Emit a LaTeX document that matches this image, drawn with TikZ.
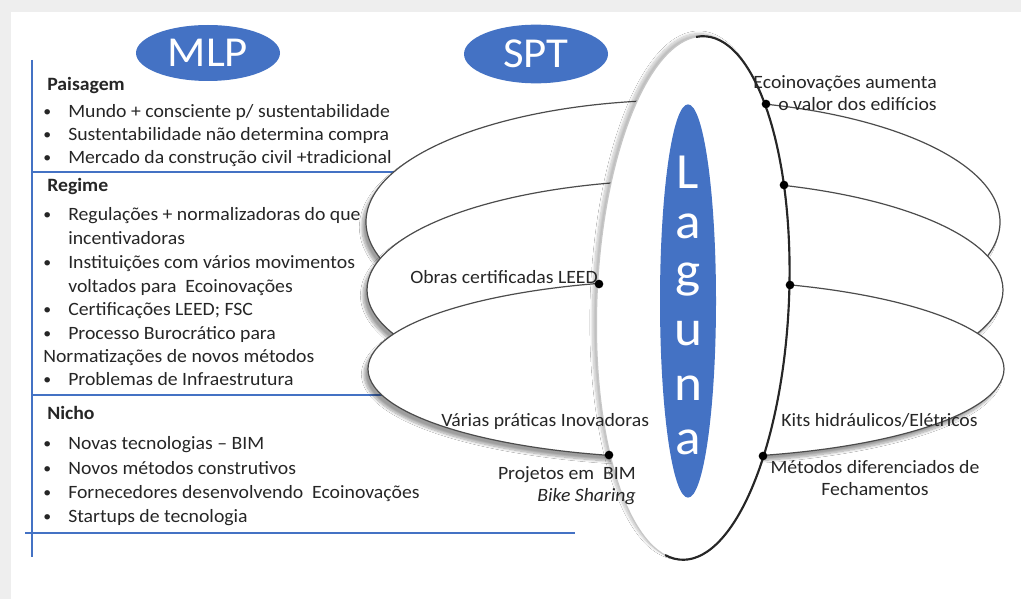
\documentclass[tikz,border=0pt]{standalone}
\usepackage{fontspec}
\usepackage{graphicx}
\setmainfont{Carlito}[FakeStretch=1.05]
\usetikzlibrary{positioning,shapes.geometric,shadows.blur}
\definecolor{officeblue}{RGB}{68,114,196}
\definecolor{pagegrey}{RGB}{238,238,238}
\definecolor{inktext}{RGB}{38,38,38}
\newcommand{\bul}{\makebox[18.75pt][l]{\raisebox{0.15ex}{\scalebox{0.8}{\textbullet}}}}

\begin{document}
\begin{tikzpicture}[
  x=0.75pt, y=-0.75pt,
  every node/.style={font=\fontsize{14.1}{16.5}\selectfont, text=inktext},
  txt/.style={anchor=west, inner sep=0pt, text height=1.6ex, text depth=.4ex},
  head/.style={txt, font=\fontsize{14.1}{16.5}\selectfont\bfseries},
  note/.style={inner sep=0pt},
  tag/.style={ellipse, fill=officeblue, text=white, inner sep=0pt,
    minimum width=108pt, minimum height=42pt, font=\fontsize{32}{32}\selectfont},
  rule/.style={officeblue, line width=0.8pt},
  disc/.style={fill=white, draw=black!70, line width=0.9pt,
    blur shadow={shadow xshift=-3pt, shadow yshift=-4pt, shadow blur steps=12, shadow opacity=38}},
  lens/.style={fill=white, draw=black!22, line width=0.9pt,
    blur shadow={shadow xshift=-3pt, shadow yshift=2pt, shadow blur steps=12, shadow opacity=25}},
  lensedge/.style={draw=black!85, line width=1.6pt},
  dot/.style={circle, fill=black, inner sep=0pt, minimum size=6.5pt},
  lagletter/.style={text=white, inner sep=0pt, font=\fontsize{38}{38}\selectfont}
]
\useasboundingbox (0,0) rectangle (1021,599);
\fill[pagegrey] (0,0) rectangle (1021,599);
\fill[white] (11,12) rectangle (1021,599);

% MLP side
\node[tag] (mlp) at (208,53) {MLP};
\node[tag, minimum height=44pt] (spt) at (536,54) {SPT};

\draw[rule] (32,60) -- (32,557);
\draw[rule] (32,172) -- (575,172);
\draw[rule] (32,395) -- (566,395);
\draw[rule] (25,533) -- (575,533);

\node[head] (paisagem) at (47,87) {Paisagem};
\node[txt] (p1) at (43,114) {\bul Mundo + consciente p/ sustentabilidade};
\node[txt] (p2) at (43,137) {\bul Sustentabilidade não determina compra};
\node[txt] (p3) at (43,160) {\bul Mercado da construção civil +tradicional};

\node[head] (regime) at (47,188) {Regime};
\node[txt] (r1) at (43,217) {\bul Regulações + normalizadoras do que};
\node[txt] (r1b) at (68,241) {incentivadoras};
\node[txt] (r2) at (43,265) {\bul Instituições com vários movimentos};
\node[txt] (r2b) at (68,289) {voltados para\ \ Ecoinovações};
\node[txt] (r3) at (43,312) {\bul Certificações LEED; FSC};
\node[txt] (r4) at (43,336) {\bul Processo Burocrático para};
\node[txt] (r4b) at (43,359) {Normatizações de novos métodos};
\node[txt] (r5) at (43,382) {\bul Problemas de Infraestrutura};

\node[head] (nicho) at (47,416) {Nicho};
\node[txt] (n1) at (43,446) {\bul Novas tecnologias -- BIM};
\node[txt] (n2) at (43,471) {\bul Novos métodos construtivos};
\node[txt] (n3) at (43,495) {\bul Fornecedores desenvolvendo\ \ Ecoinovações};
\node[txt] (n4) at (43,519) {\bul Startups de tecnologia};

% SPT side: three levels
\draw[disc] (683,222) ellipse [x radius=317, y radius=122];
\draw[disc] (685,290) ellipse [x radius=318, y radius=110];
\draw[disc] (686,369) ellipse [x radius=318, y radius=89];

\begin{scope}[shift={(693,298)}, rotate=-2.5]
  \draw[lens] (0,0) ellipse [x radius=96, y radius=262];
  \draw[lensedge] ({96*cos(-95)},{262*sin(-95)})
    arc [start angle=-95, end angle=100, x radius=96, y radius=262];
\end{scope}

\node[ellipse, fill=officeblue, inner sep=0pt, minimum width=42pt, minimum height=295pt] (laguna) at (688,301) {};
\foreach \ch [count=\i] in {L,a,g,u,n,a}
  \node[lagletter] (lag\i) at (688,{118+54*\i}) {\ch};

\node[dot] (d1) at (766,104) {};
\node[dot] (d2) at (784,185) {};
\node[dot] (d3) at (790,285) {};
\node[dot] (d4) at (763,456) {};
\node[dot] (d5) at (599,284) {};
\node[dot] (d6) at (609,455) {};

\node[note, align=right, anchor=east] (eco) at (937,93) {Ecoinovações aumenta\\o valor dos edifícios};
\node[note, anchor=east] (obras) at (598,277) {Obras certificadas LEED};
\node[note, anchor=west] (varias) at (441,421) {Várias práticas Inovadoras};
\node[note, align=right, anchor=east] (bim) at (636,486) {Projetos em\ \ BIM\\\textit{Bike Sharing}};
\node[note, anchor=west] (kits) at (781,420) {Kits hidráulicos/Elétricos};
\node[note, align=center] (fech) at (875,478) {Métodos diferenciados de\\Fechamentos};
\end{tikzpicture}
\end{document}
